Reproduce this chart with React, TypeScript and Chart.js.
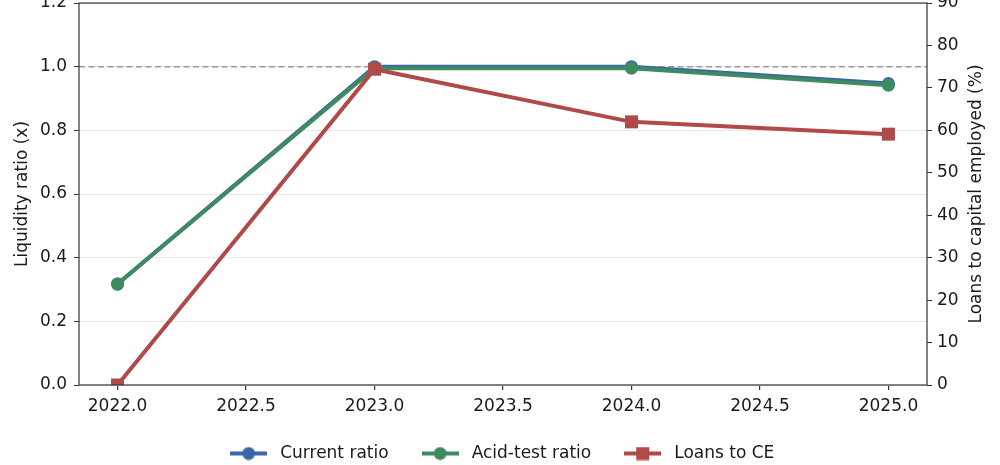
import { useEffect, useRef } from "react";
import { Chart, registerables } from "chart.js";

Chart.register(...registerables);

// Values
const years = [2022, 2023, 2024, 2025];
const currentRatio = [0.317, 1.0, 1.0, 0.947];
const acidTestRatio = [0.317, 0.995, 0.995, 0.942];
const loansToCE = [0, 74.4, 62.0, 59.1];

const xTicks = [2022.0, 2022.5, 2023.0, 2023.5, 2024.0, 2024.5, 2025.0];
const leftTicks = [0, 0.2, 0.4, 0.6, 0.8, 1.0, 1.2];
const rightTicks = [0, 10, 20, 30, 40, 50, 60, 70, 80, 90];
const referenceLevel = 1.0;
const rightTitle = "Loans to capital employed (%)";

const FONT = "'DejaVu Sans', sans-serif";
const TEXT = "#1a1a1a";
const BLUE = "#3a67a6";
const GREEN = "#3d8b5f";
const RED = "#b04a48";

function legendIcon(color: string, marker: "circle" | "square") {
  const c = document.createElement("canvas");
  c.width = 37;
  c.height = 14;
  const ctx = c.getContext("2d")!;
  ctx.strokeStyle = color;
  ctx.lineWidth = 4;
  ctx.beginPath();
  ctx.moveTo(0, 7);
  ctx.lineTo(37, 7);
  ctx.stroke();
  ctx.fillStyle = color;
  if (marker === "circle") {
    ctx.beginPath();
    ctx.arc(18.5, 7, 6.5, 0, Math.PI * 2);
    ctx.fill();
  } else {
    ctx.fillRect(12, 0.5, 13, 13);
  }
  return c;
}

const refLinePlugin = {
  id: "refLine",
  beforeDatasetsDraw(chart: any) {
    const { ctx, chartArea } = chart;
    const y = chart.scales.y.getPixelForValue(referenceLevel);
    ctx.save();
    ctx.strokeStyle = "#999999";
    ctx.lineWidth = 1.5;
    ctx.setLineDash([6, 3.5]);
    ctx.beginPath();
    ctx.moveTo(chartArea.left, y);
    ctx.lineTo(chartArea.right, y);
    ctx.stroke();
    ctx.restore();
  },
};

const framePlugin = {
  id: "frame",
  afterDatasetsDraw(chart: any) {
    const { ctx, chartArea } = chart;
    ctx.save();
    ctx.strokeStyle = "#333333";
    ctx.lineWidth = 1.2;
    ctx.strokeRect(
      chartArea.left,
      chartArea.top,
      chartArea.right - chartArea.left,
      chartArea.bottom - chartArea.top
    );
    ctx.restore();
  },
};

// right-hand axis title reads bottom-to-top like the left one
const rightTitlePlugin = {
  id: "rightTitle",
  afterDraw(chart: any) {
    const { ctx, chartArea } = chart;
    ctx.save();
    ctx.translate(977, (chartArea.top + chartArea.bottom) / 2);
    ctx.rotate(-Math.PI / 2);
    ctx.font = `17px ${FONT}`;
    ctx.fillStyle = TEXT;
    ctx.textAlign = "center";
    ctx.textBaseline = "middle";
    ctx.fillText(rightTitle, 0, 0);
    ctx.restore();
  },
};

export default function App() {
  const chartRef = useRef<HTMLCanvasElement>(null);
  const chartInstance = useRef<Chart | null>(null);

  useEffect(() => {
    if (!chartRef.current) return;
    if (chartInstance.current) chartInstance.current.destroy();
    const ctx = chartRef.current.getContext("2d");
    if (!ctx) return;

    const icons = [
      legendIcon(BLUE, "circle"),
      legendIcon(GREEN, "circle"),
      legendIcon(RED, "square"),
    ];

    const tickFont = { family: FONT, size: 17 };
    const noPadY = (scale: any, width: number) => {
      scale.width = width;
      scale.paddingTop = 0;
      scale.paddingBottom = 0;
    };

    chartInstance.current = new Chart(ctx, {
      type: "line",
      data: {
        datasets: [
          {
            label: "Current ratio",
            data: years.map((x, i) => ({ x, y: currentRatio[i] })),
            borderColor: BLUE,
            backgroundColor: BLUE,
            borderWidth: 4,
            pointRadius: 6.5,
            pointBorderWidth: 0,
            pointStyle: "circle",
            yAxisID: "y",
            order: 3,
            clip: 0,
          },
          {
            label: "Acid-test ratio",
            data: years.map((x, i) => ({ x, y: acidTestRatio[i] })),
            borderColor: GREEN,
            backgroundColor: GREEN,
            borderWidth: 4,
            pointRadius: 6.5,
            pointBorderWidth: 0,
            pointStyle: "circle",
            yAxisID: "y",
            order: 2,
            clip: 0,
          },
          {
            label: "Loans to CE",
            data: years.map((x, i) => ({ x, y: loansToCE[i] })),
            borderColor: RED,
            backgroundColor: RED,
            borderWidth: 4,
            pointRadius: 9.2,
            pointBorderWidth: 0,
            pointStyle: "rect",
            yAxisID: "y1",
            order: 1,
            clip: 0,
          },
        ],
      },
      options: {
        animation: false,
        responsive: true,
        maintainAspectRatio: false,
        layout: {
          autoPadding: false,
          padding: { top: 3, left: 0, right: 0, bottom: -7 },
        },
        scales: {
          x: {
            type: "linear",
            min: 2021.85,
            max: 2025.15,
            afterBuildTicks: (scale: any) => {
              scale.ticks = xTicks.map((v) => ({ value: v }));
            },
            afterFit: (scale: any) => {
              scale.height = 31.5;
              scale.paddingLeft = 0;
              scale.paddingRight = 0;
            },
            ticks: {
              font: tickFont,
              color: TEXT,
              padding: 6,
              maxRotation: 0,
              callback: (v: any) => Number(v).toFixed(1),
            },
            grid: {
              drawOnChartArea: false,
              tickColor: "#333",
              tickLength: 5,
              lineWidth: 1.2,
            },
            border: { display: false },
          },
          y: {
            type: "linear",
            position: "left",
            min: 0,
            max: 1.2,
            afterBuildTicks: (scale: any) => {
              scale.ticks = leftTicks.map((v) => ({ value: v }));
            },
            afterFit: (scale: any) => noPadY(scale, 79),
            title: {
              display: true,
              text: "Liquidity ratio (x)",
              font: { family: FONT, size: 17 },
              color: TEXT,
              padding: { top: 12, bottom: 4 },
            },
            ticks: {
              font: tickFont,
              color: TEXT,
              padding: 7,
              callback: (v: any) => Number(v).toFixed(1),
            },
            grid: {
              color: "#e8e8e8",
              lineWidth: 1,
              tickColor: "#333",
              tickLength: 5,
            },
            border: { display: false },
          },
          y1: {
            type: "linear",
            position: "right",
            min: 0,
            max: 90,
            afterBuildTicks: (scale: any) => {
              scale.ticks = rightTicks.map((v) => ({ value: v }));
            },
            afterFit: (scale: any) => noPadY(scale, 73),
            ticks: {
              font: tickFont,
              color: TEXT,
              padding: 5,
              callback: (v: any) => String(v),
            },
            grid: {
              drawOnChartArea: false,
              tickColor: "#333",
              tickLength: 5,
            },
            border: { display: false },
          },
        },
        plugins: {
          tooltip: { enabled: false },
          legend: {
            position: "bottom",
            labels: {
              usePointStyle: true,
              pointStyleWidth: 46,
              padding: 28.5,
              font: { family: FONT, size: 17 },
              color: TEXT,
              generateLabels: (chart: any) =>
                chart.data.datasets.map((ds: any, i: number) => ({
                  text: ds.label,
                  fillStyle: ds.borderColor,
                  strokeStyle: ds.borderColor,
                  lineWidth: 0,
                  pointStyle: icons[i],
                  hidden: false,
                  datasetIndex: i,
                  fontColor: TEXT,
                })),
            },
          },
        },
      },
      plugins: [refLinePlugin, framePlugin, rightTitlePlugin],
    } as any);

    return () => {
      if (chartInstance.current) {
        chartInstance.current.destroy();
        chartInstance.current = null;
      }
    };
  }, []);

  return (
    <div
      style={{
        position: "absolute",
        left: 0,
        top: 0,
        width: 1000,
        height: 465,
        background: "#fff",
      }}
    >
      <canvas ref={chartRef} />
    </div>
  );
}
